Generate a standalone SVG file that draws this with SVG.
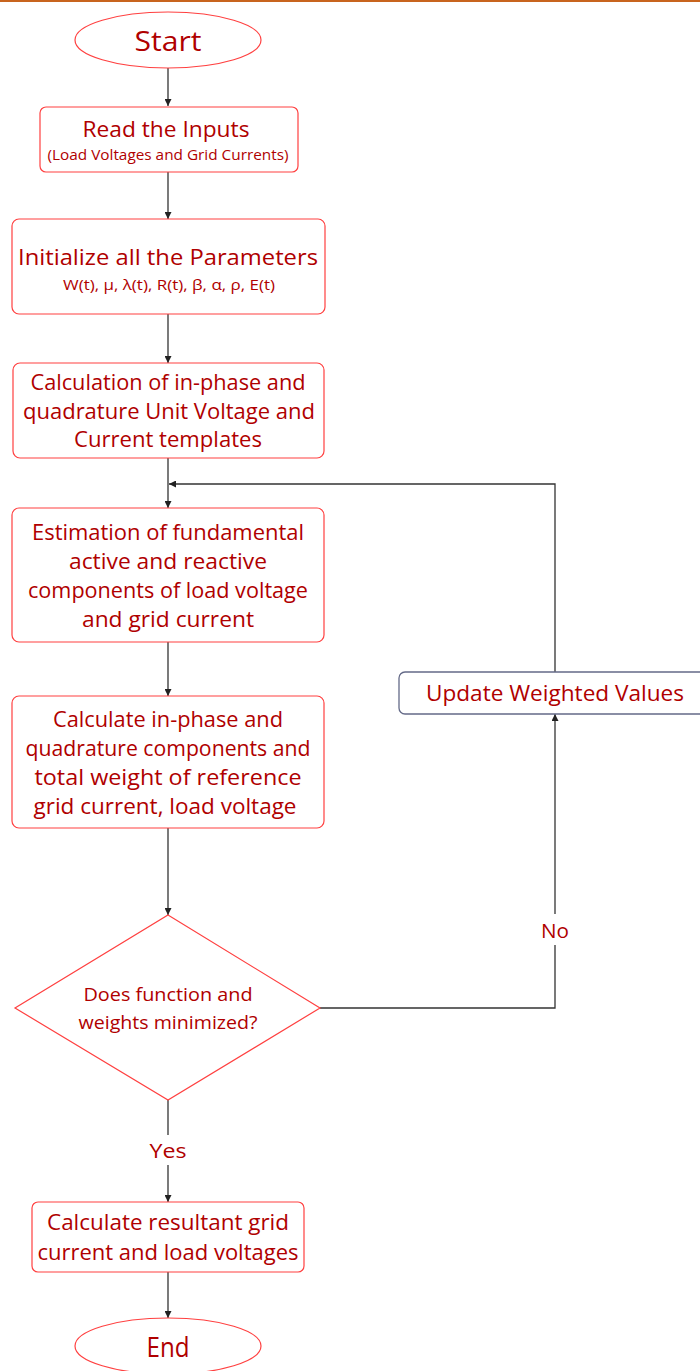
<svg xmlns="http://www.w3.org/2000/svg" width="700" height="1371" viewBox="0 0 700 1371">
<style>
.box{fill:#fff;stroke:#ff4040;stroke-width:1.2}
.upd{fill:#fff;stroke:#646a88;stroke-width:1.3}
.t{font-family:"Open Sans","DejaVu Sans",sans-serif;fill:#b00000;text-anchor:middle}
.c{fill:none;stroke:#333;stroke-width:1.3}
.lbl{font-family:"Open Sans","DejaVu Sans",sans-serif;fill:#b00000;text-anchor:middle;font-size:20px}
</style>
<defs>
<marker id="ah" viewBox="0 0 10 10" refX="10" refY="5" markerWidth="7" markerHeight="7" markerUnits="userSpaceOnUse" orient="auto">
<path d="M0,0 L10,5 L0,10 z" fill="#222"/>
</marker>
</defs>
<rect x="0" y="0" width="700" height="2" fill="#c8641e"/>
<g id="connectors">
<line class="c" x1="168" y1="68" x2="168" y2="106" marker-end="url(#ah)"/>
<line class="c" x1="168" y1="172" x2="168" y2="219" marker-end="url(#ah)"/>
<line class="c" x1="168" y1="314" x2="168" y2="363" marker-end="url(#ah)"/>
<line class="c" x1="168" y1="458" x2="168" y2="508" marker-end="url(#ah)"/>
<polyline class="c" points="555,672 555,484 169,484" marker-end="url(#ah)"/>
<line class="c" x1="168" y1="642" x2="168" y2="696" marker-end="url(#ah)"/>
<line class="c" x1="168" y1="828" x2="168" y2="915" marker-end="url(#ah)"/>
<polyline class="c" points="320,1008 555,1008 555,945"/>
<line class="c" x1="555" y1="914" x2="555" y2="714" marker-end="url(#ah)"/>
<line class="c" x1="168" y1="1100" x2="168" y2="1135"/>
<line class="c" x1="168" y1="1165" x2="168" y2="1202" marker-end="url(#ah)"/>
<line class="c" x1="168" y1="1272" x2="168" y2="1318" marker-end="url(#ah)"/>
<text class="lbl" x="555" y="938" textLength="28" lengthAdjust="spacingAndGlyphs">No</text>
<text class="lbl" x="168" y="1158" textLength="37" lengthAdjust="spacingAndGlyphs">Yes</text>
</g>
<g id="start">
<ellipse class="box" cx="168" cy="40" rx="93" ry="28"/>
<text class="t" x="168" y="51" font-size="27" textLength="67" lengthAdjust="spacingAndGlyphs">Start</text>
</g>
<g id="read">
<rect class="box" x="40" y="107" width="258" height="65" rx="6"/>
<text class="t" x="166" y="137" font-size="21" textLength="167" lengthAdjust="spacingAndGlyphs">Read the Inputs</text>
<text class="t" x="168" y="160" font-size="14" textLength="241" lengthAdjust="spacingAndGlyphs">(Load Voltages and Grid Currents)</text>
</g>
<g id="init">
<rect class="box" x="12" y="219" width="313" height="95" rx="7"/>
<text class="t" x="168" y="265" font-size="22" textLength="300" lengthAdjust="spacingAndGlyphs">Initialize all the Parameters</text>
<text class="t" x="169" y="290" font-size="14" textLength="212" lengthAdjust="spacingAndGlyphs">W(t), μ, λ(t), R(t), β, α, ρ, E(t)</text>
</g>
<g id="calc-templates">
<rect class="box" x="13" y="363" width="311" height="95" rx="7"/>
<text class="t" font-size="21"><tspan x="168" y="390" textLength="275" lengthAdjust="spacingAndGlyphs">Calculation of in-phase and</tspan><tspan x="169" y="419" textLength="292" lengthAdjust="spacingAndGlyphs">quadrature Unit Voltage and</tspan><tspan x="168" y="447" textLength="188" lengthAdjust="spacingAndGlyphs">Current templates</tspan></text>
</g>
<g id="estimation">
<rect class="box" x="12" y="508" width="312" height="134" rx="7"/>
<text class="t" font-size="21"><tspan x="168" y="540" textLength="272" lengthAdjust="spacingAndGlyphs">Estimation of fundamental</tspan><tspan x="168" y="569" textLength="198" lengthAdjust="spacingAndGlyphs">active and reactive</tspan><tspan x="168" y="598" textLength="280" lengthAdjust="spacingAndGlyphs">components of load voltage</tspan><tspan x="168" y="627" textLength="172" lengthAdjust="spacingAndGlyphs">and grid current</tspan></text>
</g>
<g id="calc-components">
<rect class="box" x="12" y="696" width="312" height="132" rx="7"/>
<text class="t" font-size="21"><tspan x="168" y="727" textLength="230" lengthAdjust="spacingAndGlyphs">Calculate in-phase and</tspan><tspan x="168" y="756" textLength="285" lengthAdjust="spacingAndGlyphs">quadrature components and</tspan><tspan x="168" y="785" textLength="267" lengthAdjust="spacingAndGlyphs">total weight of reference</tspan><tspan x="165" y="814" textLength="263" lengthAdjust="spacingAndGlyphs">grid current, load voltage</tspan></text>
</g>
<g id="decision">
<polygon class="box" points="168,915 320,1008 168,1100 15,1008"/>
<text class="t" font-size="18"><tspan x="168" y="1001" textLength="169" lengthAdjust="spacingAndGlyphs">Does function and</tspan><tspan x="168" y="1029" textLength="179" lengthAdjust="spacingAndGlyphs">weights minimized?</tspan></text>
</g>
<g id="update">
<rect class="upd" x="399" y="672" width="320" height="42" rx="6"/>
<text class="t" x="555" y="701" font-size="21" textLength="258" lengthAdjust="spacingAndGlyphs">Update Weighted Values</text>
</g>
<g id="resultant">
<rect class="box" x="32" y="1202" width="272" height="70" rx="6"/>
<text class="t" font-size="21"><tspan x="168" y="1230" textLength="242" lengthAdjust="spacingAndGlyphs">Calculate resultant grid</tspan><tspan x="168" y="1260" textLength="261" lengthAdjust="spacingAndGlyphs">current and load voltages</tspan></text>
</g>
<g id="end">
<ellipse class="box" cx="168" cy="1346" rx="93" ry="28"/>
<text class="t" x="168" y="1357" font-size="27" textLength="43" lengthAdjust="spacingAndGlyphs">End</text>
</g>
</svg>
